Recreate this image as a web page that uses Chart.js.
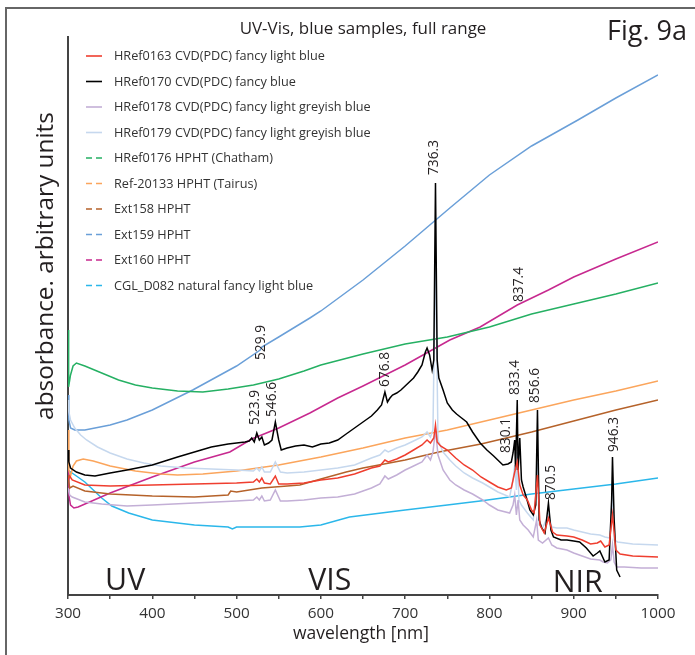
<!DOCTYPE html>
<html>
<head>
<meta charset="utf-8">
<title>UV-Vis, blue samples, full range</title>
<script src="https://cdn.jsdelivr.net/npm/chart.js@4.4.1/dist/chart.umd.min.js"></script>
<style>
  html, body { margin: 0; padding: 0; background: #fff; }
  #wrap { position: relative; width: 695px; height: 655px; overflow: hidden; }
  #frame { position: absolute; left: 5px; top: 7px; width: 720px; height: 680px; border: 2px solid #666; box-sizing: border-box; }
  #chart { position: absolute; left: 0; top: 0; }
</style>
</head>
<body>
<div id="wrap">
  <div id="frame"></div>
  <canvas id="chart" width="695" height="655"></canvas>
</div>
<script>
// spectra: wavelength [nm] / absorbance [arbitrary units]
const wlHRef0163 = [300,302,305,320,350,400,450,500,520,524,527,530,533,540,546,550,560,580,600,620,640,660,670,676,680,690,700,710,720,726,730,734,736,738,742,750,760,770,780,790,800,810,820,826,830,833,836,840,845,850,853,857,860,865,870,875,880,892,900,910,920,928,932,937,942,946,950,955,970,1000];
const absHRef0163 = [115,119,115,110,109,110,111,112,113,116,113,117,112,111,119,111,111,112,115,117,121,127,129,135,133,136,140,145,150,155,152,157,170,153,149,145,137,130,125,118,113,108,105,107,123,133,110,100,95,85,82,120,70,62,77,63,60,59,58,55,51,52,54,48,50,80,45,41,39,38];

const wlHRef0170 = [300,301,303,310,320,332,350,370,400,430,450,470,490,500,510,515,518,521,524,527,530,533,538,542,546,550,553,560,570,580,590,600,610,620,630,640,650,660,667,672,676,679,682,685,690,695,700,705,710,715,720,724,726,729,732,734,736,738,740,745,750,756,761,767,773,780,789,797,805,816,822,826,828,830,831,833,834,836,838,840,844,848,852,855,857,859,862,866,870,873,876,885,892,900,907,915,923,928,931,937,942,945,946,948,951,955];
const absHRef0170 = [145,133,127,123,120,119,122,125,130,138,143,148,151,152,153,154,157,153,162,155,158,150,152,155,173,155,145,147,149,150,148,151,152,155,161,167,173,179,185,190,203,193,197,200,202,205,209,213,217,223,230,243,247,240,225,235,412,235,217,205,192,185,181,177,173,163,152,145,139,130,131,133,142,155,125,195,125,157,115,108,97,85,80,90,185,75,67,62,92,65,58,55,55,54,53,47,39,42,44,33,35,95,138,75,25,18];

const wlHRef0178 = [300,302,305,320,340,370,400,450,500,520,524,527,530,533,540,546,552,560,580,600,620,640,660,670,676,680,690,700,710,720,726,730,733,736,739,745,753,760,770,780,792,800,810,824,828,830,832,834,836,840,846,852,856,858,863,870,874,880,892,900,910,920,931,935,940,944,946,948,951,960,980,1000];
const absHRef0178 = [107,100,98,93,91,89,90,92,94,95,98,95,99,94,95,105,94,94,95,97,98,101,107,111,119,116,120,125,129,133,140,135,143,165,140,125,115,110,105,101,95,90,85,82,90,100,80,95,75,70,65,58,75,55,52,57,50,47,45,42,39,36,35,33,32,35,50,33,28,28,27,27];

const wlHRef0179 = [300,301,303,308,315,322,335,350,370,390,410,440,470,500,520,524,527,530,533,540,546,552,560,580,600,620,640,660,670,676,680,690,700,710,720,726,730,733,736,739,745,753,760,770,780,792,800,810,824,828,830,832,833,835,838,845,852,855,857,859,863,870,874,880,892,900,910,920,931,937,943,946,948,952,970,1000];
const absHRef0179 = [195,183,175,167,160,155,148,142,136,132,129,127,126,125,124,127,124,128,123,123,133,123,122,123,125,127,130,137,140,145,143,147,150,154,158,163,158,165,345,155,143,135,129,122,117,112,108,103,98,115,130,105,143,95,90,82,75,100,132,70,67,80,68,67,67,65,63,61,60,58,57,105,55,53,51,50];

const wlHRef0176 = [300,300.5,301,303,306,310,320,340,360,380,400,430,460,490,520,550,580,600,650,700,750,800,850,900,950,1000];
const absHRef0176 = [265,235,208,220,229,232,229,222,215,210,207,204,203,206,210,216,224,230,241,251,258,268,281,291,301,312];

const wlRef20133 = [300,301,303,306,310,318,330,350,380,410,430,460,500,550,600,650,700,750,800,850,900,950,1000];
const absRef20133 = [165,125,119,129,134,136,134,129,124,121,120,121,124,130,138,147,157,165,175,185,195,204,214];

const wlExt158 = [300,302,306,320,350,400,450,490,493,500,530,575,600,630,650,700,740,790,800,850,900,950,1000];
const absExt158 = [120,107,109,104,101,99,98,100,104,103,107,110,116,123,127,135,143,151,153,163,174,185,195];

const wlExt159 = [300,301,303,308,320,350,370,400,448,500,528,530,550,587,600,650,700,753,800,850,905,950,1000];
const absExt159 = [200,175,167,165,165,170,175,185,205,229,245,248,258,277,284,315,349,387,420,449,475,497,520];

const wlExt160 = [300,301,303,307,312,350,400,450,492,518,550,587,620,650,700,753,789,833,870,900,950,1000];
const absExt160 = [125,100,90,87,88,102,118,133,143,156,167,182,197,209,230,255,268,290,305,318,336,353];

const wlCGLD082 = [300,303,310,320,330,340,352,372,400,450,490,495,500,575,600,634,700,750,789,850,900,950,1000];
const absCGLD082 = [113,123,119,113,105,97,89,82,75,70,68,66,68,68,70,78,85,90,94,101,106,111,117];

const seriesNames = [
  'HRef0163 CVD(PDC) fancy light blue',
  'HRef0170 CVD(PDC) fancy blue',
  'HRef0178 CVD(PDC) fancy light greyish blue',
  'HRef0179 CVD(PDC) fancy light greyish blue',
  'HRef0176 HPHT (Chatham)',
  'Ref-20133 HPHT (Tairus)',
  'Ext158 HPHT',
  'Ext159 HPHT',
  'Ext160 HPHT',
  'CGL_D082 natural fancy light blue'
];
const seriesWl = [wlHRef0163, wlHRef0170, wlHRef0178, wlHRef0179, wlHRef0176, wlRef20133, wlExt158, wlExt159, wlExt160, wlCGLD082];
const seriesAbs = [absHRef0163, absHRef0170, absHRef0178, absHRef0179, absHRef0176, absRef20133, absExt158, absExt159, absExt160, absCGLD082];
const seriesColors = ['#ef3e2f', '#000000', '#c3afd6', '#c6d8ee', '#25b063', '#fba55c', '#b5622a', '#6a9fd8', '#c7298f', '#2bb7ea'];

// x axis tick labels
const xTickLabels = [300, 400, 500, 600, 700, 800, 900, 1000];

// peak annotations: text, position (nm, abs) of the text's lower end
const peakLabels = ['529.9', '523.9', '546.6', '676.8', '736.3', '837.4', '833.4', '830.1', '856.6', '870.5', '946.3'];
const peakNm = [529, 522, 542, 676, 734, 835, 830, 820, 854, 873, 948];
const peakAbs = [235, 170, 178, 208, 420, 293, 200, 142, 192, 95, 143];

// spectral regions
const regionNames = ['UV', 'VIS', 'NIR'];
const regionNm = [344, 585, 875];
const regionAbs = [5, 5, 3];

const FONT = '"Open Sans", "Noto Sans", sans-serif';
const TEXT = '#231f20';
const TITLE = 'UV-Vis, blue samples, full range';

// pick font sizes so the texts come out as wide as in the figure
const mctx = document.createElement('canvas').getContext('2d');
function fitSize(text, width) {
  mctx.font = '100px ' + FONT;
  return 100 * width / mctx.measureText(text).width;
}
const sz = {
  title: fitSize(TITLE, 247),
  legend: fitSize(seriesNames[0], 211),
  peak: fitSize('736.3', 35),
  region: fitSize('NIR', 50),
  xTitle: fitSize('wavelength [nm]', 136),
  yTitle: fitSize('absorbance. arbitrary units', 308),
  tick: fitSize('1000', 35),
  fig: fitSize('Fig. 9a', 80)
};

const decorations = {
  id: 'decorations',
  afterDatasetsDraw(chart) {
    const ctx = chart.ctx;
    const xs = chart.scales.x, ys = chart.scales.y;
    const area = chart.chartArea;
    ctx.save();
    ctx.fillStyle = TEXT;

    // title
    ctx.font = sz.title + 'px ' + FONT;
    ctx.textAlign = 'center';
    ctx.textBaseline = 'alphabetic';
    ctx.fillText(TITLE, (area.left + area.right) / 2, 34);

    // peak wavelengths, rotated
    ctx.font = sz.peak + 'px ' + FONT;
    ctx.textAlign = 'left';
    ctx.textBaseline = 'middle';
    peakLabels.forEach((t, i) => {
      ctx.save();
      ctx.translate(xs.getPixelForValue(peakNm[i]), ys.getPixelForValue(peakAbs[i]));
      ctx.rotate(-Math.PI / 2);
      ctx.fillText(t, 0, 0);
      ctx.restore();
    });

    // UV / VIS / NIR
    ctx.font = sz.region + 'px ' + FONT;
    ctx.textBaseline = 'alphabetic';
    regionNames.forEach((t, i) => {
      ctx.fillText(t, xs.getPixelForValue(regionNm[i]), ys.getPixelForValue(regionAbs[i]));
    });

    // legend
    const lx = 86, tx = 114, y0 = 56, dy = 25.5;
    ctx.font = sz.legend + 'px ' + FONT;
    ctx.textBaseline = 'middle';
    chart.data.datasets.forEach((ds, i) => {
      const y = y0 + i * dy;
      ctx.strokeStyle = ds.borderColor;
      ctx.lineWidth = 1.6;
      ctx.setLineDash(i >= 4 ? [6, 4] : []);
      ctx.beginPath();
      ctx.moveTo(lx, y);
      ctx.lineTo(lx + 16, y);
      ctx.stroke();
      ctx.fillStyle = '#333';
      ctx.fillText(ds.label, tx, y + 0.5);
    });
    ctx.setLineDash([]);

    // axis titles
    ctx.fillStyle = TEXT;
    ctx.font = sz.xTitle + 'px ' + FONT;
    ctx.textAlign = 'center';
    ctx.textBaseline = 'alphabetic';
    ctx.fillText('wavelength [nm]', 361, 639);
    ctx.save();
    ctx.translate(46, 266);
    ctx.rotate(-Math.PI / 2);
    ctx.textBaseline = 'middle';
    ctx.font = sz.yTitle + 'px ' + FONT;
    ctx.fillText('absorbance. arbitrary units', 0, 0);
    ctx.restore();

    // figure tag
    ctx.font = sz.fig + 'px ' + FONT;
    ctx.textAlign = 'left';
    ctx.textBaseline = 'alphabetic';
    ctx.fillText('Fig. 9a', 607, 40);
    ctx.restore();
  }
};

const datasets = seriesNames.map((name, i) => ({
  label: name,
  data: seriesWl[i].map((x, j) => ({ x: x, y: seriesAbs[i][j] })),
  borderColor: seriesColors[i],
  backgroundColor: seriesColors[i],
  borderWidth: 1.5,
  pointRadius: 0,
  tension: 0,
  fill: false
}));

new Chart(document.getElementById('chart'), {
  type: 'line',
  data: { datasets: datasets },
  options: {
    responsive: false,
    devicePixelRatio: 1,
    animation: false,
    layout: { padding: { left: 68, right: 37, top: 37, bottom: 0 } },
    plugins: {
      legend: { display: false },
      tooltip: { enabled: false },
      title: { display: false }
    },
    scales: {
      x: {
        type: 'linear',
        min: 300,
        max: 1000,
        afterFit(scale) { scale.height = 60; },
        border: { display: true, color: '#444', width: 2 },
        grid: { drawOnChartArea: false, drawTicks: true, tickLength: 4, color: '#444', lineWidth: 1.5 },
        ticks: {
          stepSize: 50,
          autoSkip: false,
          maxRotation: 0,
          padding: 5,
          color: '#333',
          font: { family: FONT, size: sz.tick },
          callback: (v) => xTickLabels.includes(v) ? String(v) : ''
        }
      },
      y: {
        type: 'linear',
        min: 0,
        max: 558,
        afterFit(scale) { scale.width = 0; },
        border: { display: true, color: '#444', width: 2 },
        grid: { display: false },
        ticks: { display: false }
      }
    }
  },
  plugins: [decorations]
});
</script>
</body>
</html>
